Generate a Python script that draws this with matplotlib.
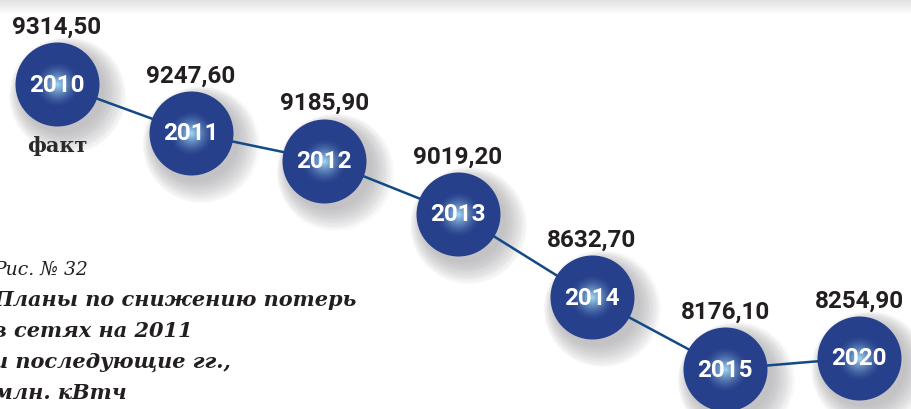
import numpy as np
import matplotlib
matplotlib.use("Agg")
import matplotlib.pyplot as plt
import matplotlib.transforms as mtransforms
from matplotlib.colors import to_rgb

# ---- data ----
years = ['2010', '2011', '2012', '2013', '2014', '2015', '2020']
values = [9314.50, 9247.60, 9185.90, 9019.20, 8632.70, 8176.10, 8254.90]
value_labels = ['9314,50', '9247,60', '9185,90', '9019,20', '8632,70', '8176,10', '8254,90']
fact_note = 'факт'
caption_title = 'Рис. № 32'
caption_lines = ['Планы по снижению потерь', 'в сетях на 2011',
                 'и последующие гг.,', 'млн. кВтч']

# ---- scale (schematic signed-sqrt value scale) ----
C = 9330.0
def fwd(v):
    d = np.asarray(v, dtype=float) - C
    return np.sign(d) * np.sqrt(np.abs(d))
def inv(g):
    g = np.asarray(g, dtype=float)
    return C + np.sign(g) * g ** 2

W, H = 912, 410
fig = plt.figure(figsize=(W / 100, H / 100), dpi=100)
fig.patch.set_facecolor('white')

# top grey fade band
band = fig.add_axes([0, 1 - 16 / H, 1, 16 / H])
grad = np.linspace(0, 1, 64).reshape(-1, 1)
band.imshow(grad, cmap=matplotlib.colors.LinearSegmentedColormap.from_list(
    'b', ['#e0e0e2', '#ffffff']), aspect='auto', extent=[0, 1, 0, 1])
band.axis('off')

ax = fig.add_axes([0, 0, 1, 1])
ax.patch.set_alpha(0)
ax.set_yscale('function', functions=(fwd, inv))
x = np.arange(len(years))
ax.set_xlim(-0.4264, 6.3966)
ax.set_ylim(7872.0, 9355.2)
ax.axis('off')

R_PX = 42.0
d_pt = 2 * R_PX * 0.72

# shadows
for k in range(14):
    sh = mtransforms.offset_copy(ax.transData, fig=fig, x=5 + k * 0.4, y=-6 - k * 0.4, units='dots')
    frac = 1.0 + k * 0.03
    ax.scatter(x, values, s=(d_pt * frac) ** 2, color='#9a9a9e', alpha=0.055,
               linewidths=0, transform=sh, zorder=1)

# connecting line
ax.plot(x, values, color='#124a86', lw=1.8, zorder=2, solid_capstyle='butt')

# gradient circles
base = np.array(to_rgb('#27408c'))
light = np.array(to_rgb('#a6dcf7'))
N = 45
for k in range(N):
    t = 1 - k / N
    w = max(0.0, 1 - t / 0.55) ** 1.5
    col = base * (1 - w) + light * w
    ax.scatter(x, values, s=(d_pt * t) ** 2, color=col, linewidths=0, zorder=3 + k * 0.001)

# year labels
for xi, v, yr in zip(x, values, years):
    ax.text(xi, v, yr, ha='center', va='center', color='white',
            fontsize=17.5, fontweight='bold', family='Roboto', zorder=5)

# value labels
for xi, v, lab in zip(x, values, value_labels):
    ax.annotate(lab, (xi, v), xytext=(0, 58 * 0.72), textcoords='offset points',
                ha='center', va='center', color='#231f20', fontsize=17.5,
                fontweight='bold', family='Roboto', zorder=5)

ax.annotate(fact_note, (x[0], values[0]), xytext=(0, -61 * 0.72), textcoords='offset points',
            ha='center', va='center', color='#2a2a2a', fontsize=15,
            fontweight='bold', family='DejaVu Serif', zorder=5)

# caption
fig.text(-7 / W, 1 - 270 / H, caption_title, ha='left', va='center', color='#231f20',
         fontsize=13.5, style='italic', family='DejaVu Serif')
for i, line in enumerate(caption_lines):
    fig.text(-7 / W, 1 - (300 + i * 31) / H, line, ha='left', va='center', color='#231f20',
             fontsize=15, style='italic', fontweight='bold', family='DejaVu Serif')

fig.savefig('out.png', dpi=100, facecolor='white')
